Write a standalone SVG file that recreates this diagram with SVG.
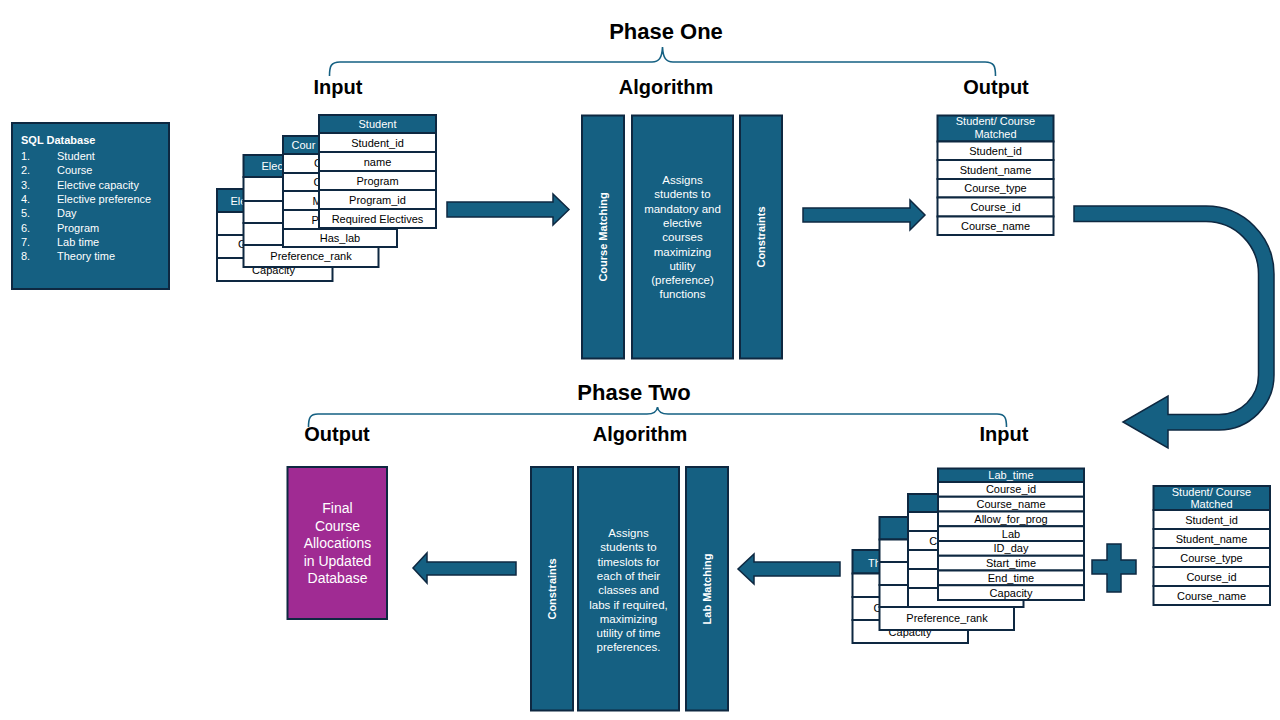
<svg xmlns="http://www.w3.org/2000/svg" width="1280" height="720" viewBox="0 0 1280 720">
<style>
.hd{fill:#156082;stroke:#0E2841;stroke-width:2}
.c{fill:#fff;stroke:#0E2841;stroke-width:2}
.blk{fill:#156082;stroke:#0E2841;stroke-width:2}
.t{font-family:"Liberation Sans",Arial,sans-serif;font-size:11px;fill:#000;text-anchor:middle}
.ts{font-family:"Liberation Sans",Arial,sans-serif;font-size:11px;fill:#000}
.w{fill:#fff}
.b{font-weight:bold}
.h1{font-family:"Liberation Sans",Arial,sans-serif;font-size:20px;font-weight:bold;fill:#000;text-anchor:middle}
.h0{font-family:"Liberation Sans",Arial,sans-serif;font-size:22px;font-weight:bold;fill:#000;text-anchor:middle}
.ar{fill:#156082;stroke:#0E2841;stroke-width:1.5}
.br{fill:none;stroke:#156082;stroke-width:1.6}
.mt{font-family:"Liberation Sans",Arial,sans-serif;font-size:11.5px;fill:#fff;text-anchor:middle}
</style>
<rect width="1280" height="720" fill="#fff"/>

<!-- Headings -->
<g id="phase-one-heading">
<text class="h0" x="666" y="39">Phase One</text>
<path class="br" d="M329.5,76 C329.5,66 331,62 340,62 L652,62 C659,62 662,58 662.5,47 C663,58 666,62 673,62 L985,62 C994,62 995.5,66 995.5,76"/>
<text class="h1" x="338" y="94">Input</text>
<text class="h1" x="666" y="94">Algorithm</text>
<text class="h1" x="996" y="94">Output</text>
</g>
<g id="phase-two-heading">
<text class="h0" x="634" y="400">Phase Two</text>
<path class="br" d="M308.5,427 C308.5,418 310,414 318,414 L647,414 C654,414 657,411 657.5,407 C658,411 661,414 668,414 L997,414 C1005,414 1006.5,418 1006.5,427"/>
<text class="h1" x="337" y="441">Output</text>
<text class="h1" x="640" y="441">Algorithm</text>
<text class="h1" x="1004" y="441">Input</text>
</g>

<!-- SQL Database -->
<g id="sql-database">
<rect class="blk" x="12" y="123" width="157" height="166"/>
<text class="ts w b" x="21" y="144">SQL Database</text>
<g class="ts w">
<text x="21" y="160">1.</text><text x="57" y="160">Student</text>
<text x="21" y="174.3">2.</text><text x="57" y="174.3">Course</text>
<text x="21" y="188.6">3.</text><text x="57" y="188.6">Elective capacity</text>
<text x="21" y="202.9">4.</text><text x="57" y="202.9">Elective preference</text>
<text x="21" y="217.2">5.</text><text x="57" y="217.2">Day</text>
<text x="21" y="231.5">6.</text><text x="57" y="231.5">Program</text>
<text x="21" y="245.8">7.</text><text x="57" y="245.8">Lab time</text>
<text x="21" y="260">8.</text><text x="57" y="260">Theory time</text>
</g>
</g>

<!-- Phase one input stack -->
<g id="input1-table1">
<rect class="hd" x="217" y="189" width="115.5" height="23"/>
<rect class="c" x="217" y="212" width="115.5" height="23"/>
<rect class="c" x="217" y="235" width="115.5" height="23"/>
<rect class="c" x="217" y="258" width="115.5" height="23"/>
<text class="ts w" x="230.5" y="205">Ele</text>
<text class="ts" x="238" y="248">C</text>
<text class="t" x="273.5" y="274">Capacity</text>
</g>
<g id="input1-table2">
<rect class="hd" x="243.5" y="155" width="135" height="22"/>
<rect class="c" x="243.5" y="177" width="135" height="24"/>
<rect class="c" x="243.5" y="201" width="135" height="22"/>
<rect class="c" x="243.5" y="223" width="135" height="22"/>
<rect class="c" x="243.5" y="245" width="135" height="22"/>
<text class="ts w" x="261.5" y="169.5">Elec</text>
<text class="t" x="311" y="260">Preference_rank</text>
</g>
<g id="input1-table3">
<rect class="hd" x="283" y="136" width="114" height="18"/>
<rect class="c" x="283" y="154" width="114" height="19"/>
<rect class="c" x="283" y="173" width="114" height="18"/>
<rect class="c" x="283" y="191" width="114" height="19"/>
<rect class="c" x="283" y="210" width="114" height="19"/>
<rect class="c" x="283" y="229" width="114" height="18"/>
<text class="ts w" x="291.5" y="149">Cour</text>
<text class="ts" x="314" y="167">C</text>
<text class="ts" x="313.5" y="186">Co</text>
<text class="ts" x="312.5" y="205">M</text>
<text class="ts" x="311.5" y="224">P</text>
<text class="t" x="340" y="242">Has_lab</text>
</g>
<g id="input1-student">
<rect class="hd" x="319" y="115" width="117" height="18"/>
<rect class="c" x="319" y="133" width="117" height="19"/>
<rect class="c" x="319" y="152" width="117" height="19"/>
<rect class="c" x="319" y="171" width="117" height="19"/>
<rect class="c" x="319" y="190" width="117" height="19"/>
<rect class="c" x="319" y="209" width="117" height="19"/>
<text class="t w" x="377.5" y="128">Student</text>
<text class="t" x="377.5" y="146.5">Student_id</text>
<text class="t" x="377.5" y="165.5">name</text>
<text class="t" x="377.5" y="184.5">Program</text>
<text class="t" x="377.5" y="203.5">Program_id</text>
<text class="t" x="377.5" y="222.5">Required Electives</text>
</g>

<!-- Phase one algorithm -->
<g id="algo1-course-matching">
<rect class="blk" x="582" y="115.5" width="42" height="243"/>
<text class="t w b" transform="translate(603,237) rotate(-90)" y="4">Course Matching</text>
</g>
<g id="algo1-description">
<rect class="blk" x="632" y="115.5" width="101" height="243"/>
<text class="mt" x="682.5" y="184">Assigns</text>
<text class="mt" x="682.5" y="198.3">students to</text>
<text class="mt" x="682.5" y="212.6">mandatory and</text>
<text class="mt" x="682.5" y="226.9">elective</text>
<text class="mt" x="682.5" y="241.2">courses</text>
<text class="mt" x="682.5" y="255.5">maximizing</text>
<text class="mt" x="682.5" y="269.8">utility</text>
<text class="mt" x="682.5" y="284.1">(preference)</text>
<text class="mt" x="682.5" y="298.4">functions</text>
</g>
<g id="algo1-constraints">
<rect class="blk" x="740" y="115.5" width="42" height="243"/>
<text class="t w b" transform="translate(761,237) rotate(-90)" y="4">Constraints</text>
</g>

<!-- Phase one output -->
<g id="output1-matched">
<rect class="hd" x="937.5" y="115.5" width="116" height="26"/>
<rect class="c" x="937.5" y="141.5" width="116" height="18.5"/>
<rect class="c" x="937.5" y="160" width="116" height="19"/>
<rect class="c" x="937.5" y="179" width="116" height="18.5"/>
<rect class="c" x="937.5" y="197.5" width="116" height="19"/>
<rect class="c" x="937.5" y="216.5" width="116" height="18.5"/>
<text class="t w" x="995.5" y="125">Student/ Course</text>
<text class="t w" x="995.5" y="137.5">Matched</text>
<text class="t" x="995.5" y="154.5">Student_id</text>
<text class="t" x="995.5" y="173.5">Student_name</text>
<text class="t" x="995.5" y="192">Course_type</text>
<text class="t" x="995.5" y="211">Course_id</text>
<text class="t" x="995.5" y="229.5">Course_name</text>
</g>

<!-- Phase two input stack -->
<g id="input2-table1">
<rect class="hd" x="852.5" y="550" width="115.5" height="23.5"/>
<rect class="c" x="852.5" y="573.5" width="115.5" height="23.5"/>
<rect class="c" x="852.5" y="597" width="115.5" height="23"/>
<rect class="c" x="852.5" y="620" width="115.5" height="23"/>
<text class="ts w" x="868" y="567">Th</text>
<text class="ts" x="873.5" y="612">C</text>
<text class="t" x="910" y="636">Capacity</text>
</g>
<g id="input2-table2">
<rect class="hd" x="879.5" y="517" width="134.5" height="22.5"/>
<rect class="c" x="879.5" y="539.5" width="134.5" height="22.5"/>
<rect class="c" x="879.5" y="562" width="134.5" height="23"/>
<rect class="c" x="879.5" y="585" width="134.5" height="22"/>
<rect class="c" x="879.5" y="607" width="134.5" height="23"/>
<text class="t" x="947" y="622">Preference_rank</text>
</g>
<g id="input2-table3">
<rect class="hd" x="908" y="494" width="115.5" height="18"/>
<rect class="c" x="908" y="512" width="115.5" height="19"/>
<rect class="c" x="908" y="531" width="115.5" height="19"/>
<rect class="c" x="908" y="550" width="115.5" height="19"/>
<rect class="c" x="908" y="569" width="115.5" height="19"/>
<rect class="c" x="908" y="588" width="115.5" height="19"/>
<text class="ts" x="929.3" y="545">C</text>
</g>
<g id="input2-lab-time">
<rect class="hd" x="938" y="468.5" width="146" height="13.5"/>
<rect class="c" x="938" y="482" width="146" height="14.75"/>
<rect class="c" x="938" y="496.75" width="146" height="14.75"/>
<rect class="c" x="938" y="511.5" width="146" height="14.75"/>
<rect class="c" x="938" y="526.25" width="146" height="14.75"/>
<rect class="c" x="938" y="541" width="146" height="14.75"/>
<rect class="c" x="938" y="555.75" width="146" height="14.75"/>
<rect class="c" x="938" y="570.5" width="146" height="14.75"/>
<rect class="c" x="938" y="585.25" width="146" height="14.75"/>
<text class="t w" x="1011" y="479">Lab_time</text>
<text class="t" x="1011" y="493.4">Course_id</text>
<text class="t" x="1011" y="508.1">Course_name</text>
<text class="t" x="1011" y="522.9">Allow_for_prog</text>
<text class="t" x="1011" y="537.6">Lab</text>
<text class="t" x="1011" y="552.4">ID_day</text>
<text class="t" x="1011" y="567.1">Start_time</text>
<text class="t" x="1011" y="581.9">End_time</text>
<text class="t" x="1011" y="596.6">Capacity</text>
</g>
<g id="plus">
<path class="ar" d="M1107,544 H1121 V560 H1136 V574 H1121 V592 H1107 V574 H1092 V560 H1107 Z"/>
</g>
<g id="input2-matched">
<rect class="hd" x="1153.5" y="486" width="116.5" height="24"/>
<rect class="c" x="1153.5" y="510" width="116.5" height="19"/>
<rect class="c" x="1153.5" y="529" width="116.5" height="19"/>
<rect class="c" x="1153.5" y="548" width="116.5" height="19"/>
<rect class="c" x="1153.5" y="567" width="116.5" height="19"/>
<rect class="c" x="1153.5" y="586" width="116.5" height="19"/>
<text class="t w" x="1211.5" y="496">Student/ Course</text>
<text class="t w" x="1211.5" y="508">Matched</text>
<text class="t" x="1211.5" y="523.5">Student_id</text>
<text class="t" x="1211.5" y="542.5">Student_name</text>
<text class="t" x="1211.5" y="561.5">Course_type</text>
<text class="t" x="1211.5" y="580.5">Course_id</text>
<text class="t" x="1211.5" y="599.5">Course_name</text>
</g>

<!-- Phase two algorithm -->
<g id="algo2-constraints">
<rect class="blk" x="531" y="467" width="42" height="243.5"/>
<text class="t w b" transform="translate(552,589) rotate(-90)" y="4">Constraints</text>
</g>
<g id="algo2-description">
<rect class="blk" x="578" y="467" width="101" height="243.5"/>
<text class="mt" x="628.5" y="537">Assigns</text>
<text class="mt" x="628.5" y="551.3">students to</text>
<text class="mt" x="628.5" y="565.6">timeslots for</text>
<text class="mt" x="628.5" y="579.9">each of their</text>
<text class="mt" x="628.5" y="594.2">classes and</text>
<text class="mt" x="628.5" y="608.5">labs if required,</text>
<text class="mt" x="628.5" y="622.8">maximizing</text>
<text class="mt" x="628.5" y="637.1">utility of time</text>
<text class="mt" x="628.5" y="651.4">preferences.</text>
</g>
<g id="algo2-lab-matching">
<rect class="blk" x="686" y="467" width="42" height="243.5"/>
<text class="t w b" transform="translate(707,589) rotate(-90)" y="4">Lab Matching</text>
</g>

<!-- Phase two output -->
<g id="output2-final">
<rect x="287.5" y="467" width="99.5" height="152" fill="#A02B93" stroke="#0E2841" stroke-width="2"/>
<g font-family="Liberation Sans, Arial, sans-serif" font-size="14" fill="#fff" text-anchor="middle">
<text x="337.5" y="513">Final</text>
<text x="337.5" y="530.5">Course</text>
<text x="337.5" y="548">Allocations</text>
<text x="337.5" y="565.5">in Updated</text>
<text x="337.5" y="583">Database</text>
</g>
</g>

<!-- Connectors -->
<g id="connectors">
<path class="ar" d="M447,202 H553 V194 L569,209.5 L553,225 V217 H447 Z"/>
<path class="ar" d="M803,208 H910 V200 L925,215 L910,230 V222 H803 Z"/>
<path class="ar" d="M1074,206 H1206 A68,68 0 0 1 1274,274 V375 A55,55 0 0 1 1219,430 H1168 V448 L1123,422 L1168,396 V414.5 H1219 A39.5,39.5 0 0 0 1258.5,375 V274 A52.5,52.5 0 0 0 1206,221.5 H1074 Z"/>
<path class="ar" d="M840,562 H754 V554 L738,569 L754,584 V576 H840 Z"/>
<path class="ar" d="M516,562 H427 V553 L413,568 L427,583 V575 H516 Z"/>
</g>
</svg>
